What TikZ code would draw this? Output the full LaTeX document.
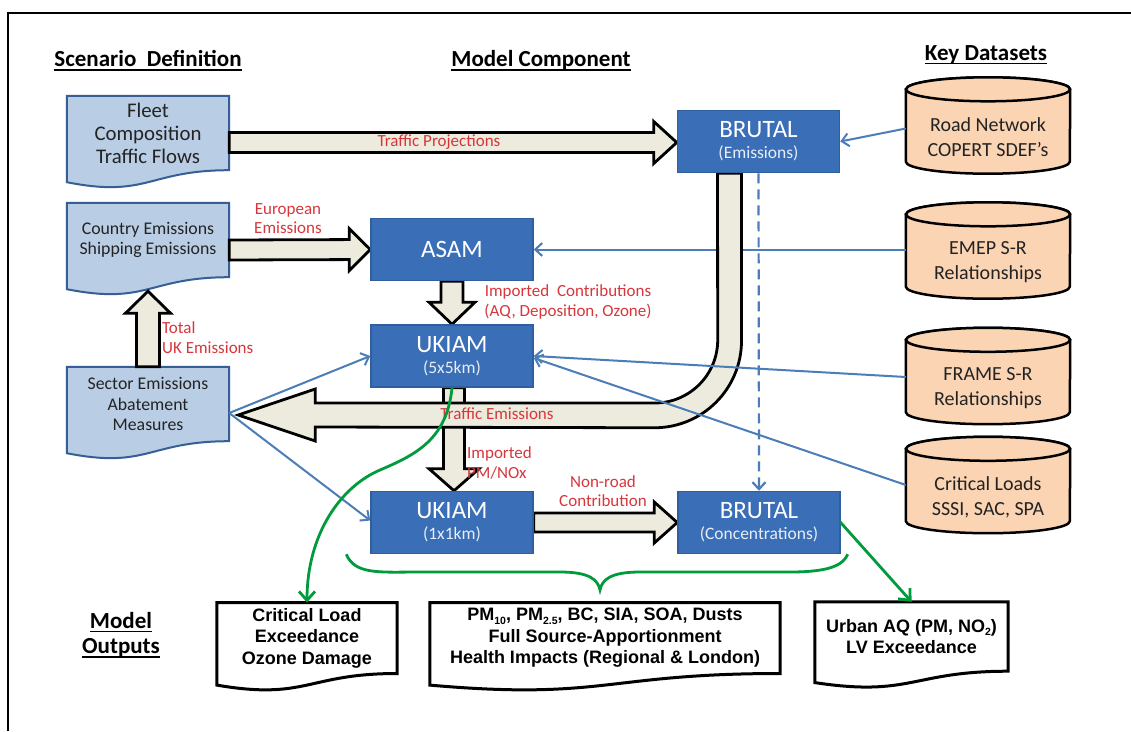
\documentclass[tikz,border=0pt]{standalone}
\usepackage{fontspec}
\setmainfont{Carlito}
\newfontfamily\arialfont{Liberation Sans}
\usetikzlibrary{calc,arrows.meta}

\pgfdeclarelayer{back}
\pgfdeclarelayer{mid}
\pgfdeclarelayer{front}
\pgfsetlayers{back,mid,main,front}

\definecolor{modelblue}{RGB}{58,110,182}
\definecolor{modelborder}{RGB}{48,95,160}
\definecolor{docfill}{RGB}{185,205,229}
\definecolor{docborder}{RGB}{55,95,150}
\definecolor{datafill}{RGB}{251,212,180}
\definecolor{arrowfill}{RGB}{236,235,222}
\definecolor{labelred}{RGB}{215,55,60}
\definecolor{linkblue}{RGB}{75,125,185}
\definecolor{outgreen}{RGB}{0,155,60}
\definecolor{textdark}{RGB}{35,35,35}

\newcommand\fs[2]{\fontsize{#1}{#2}\selectfont}
\newcommand\lowidx[1]{\raisebox{-0.35ex}{\fs{10.5}{11}#1}}
\newcommand\modeltext[2]{\fs{25}{26}#1\\[7pt]{\color{white!88!modelblue}\fs{17.5}{19}#2}}

% document outline below a node: flat top, wavy bottom edge
\newcommand\docshape[4]{%
  \draw[#4] (#1.north west) -- (#1.north east) -- (#1.south east)
    .. controls (#1.south) and ($(#1.south)+(0,-#3)$) .. ($(#1.south west)+(0,-#2)$) -- cycle;}

% upright cylinder round a node (text sits in the body)
\newcommand\cylshape[2]{%
  \draw[datashape] ($(#1.north west)+(0,#2)$) -- ($(#1.south west)+(0,#2)$)
    arc[start angle=180,end angle=360,x radius=82,y radius=#2]
    -- ($(#1.north east)+(0,#2)$)
    arc[start angle=0,end angle=180,x radius=82,y radius=#2] -- cycle;
  \draw[datashape] ($(#1.north)+(0,#2)$) ellipse[x radius=82,y radius=#2];}

% straight block arrow: from, to, shaft half width, head half width, head length
\newcommand\blockarrow[5]{%
  \coordinate (ba-a) at #1;
  \coordinate (ba-b) at #2;
  \coordinate (ba-h) at ($(ba-b)!#5pt!(ba-a)$);
  \draw[blockstyle] ($(ba-a)!#3pt!90:(ba-b)$) -- ($(ba-h)!#3pt!90:(ba-b)$)
    -- ($(ba-h)!#4pt!90:(ba-b)$) -- (ba-b) -- ($(ba-h)!#4pt!-90:(ba-b)$)
    -- ($(ba-h)!#3pt!-90:(ba-b)$) -- ($(ba-a)!#3pt!-90:(ba-b)$) -- cycle;}

\begin{document}
\begin{tikzpicture}[x=1pt,y=1pt,
  model/.style={draw=modelborder,line width=1.5,fill=modelblue,text=white,
    minimum width=162,minimum height=62,inner sep=0,align=center},
  docnode/.style={minimum width=162,minimum height=74,inner sep=0,align=center,
    text=textdark,font=\fs{17.8}{20.5}},
  docstyle/.style={draw=docborder,line width=2,fill=docfill},
  outnode/.style={inner sep=0,align=center,text=black,
    font=\arialfont\bfseries\fs{18}{21.5}},
  outstyle/.style={draw=black,line width=3,fill=white},
  datanode/.style={minimum width=164,minimum height=72,inner sep=0,align=center,
    text=textdark,font=\fs{20}{25}},
  datashape/.style={draw=black,line width=2.5,fill=datafill},
  blockstyle/.style={draw=black,line width=2.8,fill=arrowfill,line join=miter},
  heading/.style={inner sep=0,anchor=base,text=black,font=\bfseries\fs{23}{26}},
  redlabel/.style={inner sep=0,align=center,text=labelred,font=\fs{17}{19.5}},
  link/.style={draw=linkblue,line width=2,-{Straight Barb[length=7pt,width=13pt]}},
  result/.style={draw=outgreen,line width=2.8,-{Straight Barb[length=9pt,width=16pt]}},
]
\useasboundingbox (0,0) rectangle (1131,-731);
\begin{pgfonlayer}{back}
  \fill[white] (0,0) rectangle (1131,-731);
  \draw[line width=2] (8,-731) -- (8,-13) -- (1131,-13);
\end{pgfonlayer}

% ---------- column headings ----------
\node[heading] (hscen) at (148,-66) {Scenario\ \ Definition};
\node[heading] (hmodel) at (541,-66) {Model Component};
\node[heading] (hdata) at (986,-60) {Key Datasets};
\node[heading] (hout1) at (121,-628) {Model};
\node[heading] (hout2) at (121,-653) {Outputs};
\foreach \h/\d in {hscen/4,hmodel/4,hdata/3.5,hout1/3.5,hout2/4}
  \draw[line width=1.6] ($(\h.base west)+(0,-\d)$) -- ($(\h.base east)+(0,-\d)$);

% ---------- scenario definition documents ----------
\node[docnode,font=\fs{20.8}{23}] (fleet) at (148,-133) {Fleet\\Composition\\Traffic Flows};
\node[docnode] (country) at (148,-240) {Country Emissions\\Shipping Emissions};
\node[docnode] (sector) at (148,-404) {Sector Emissions\\Abatement\\Measures};
\begin{pgfonlayer}{back}
  \docshape{fleet}{12}{28}{docstyle}
  \docshape{country}{12}{28}{docstyle}
  \docshape{sector}{12}{28}{docstyle}
\end{pgfonlayer}

% ---------- model components ----------
\node[model] (brutalE) at (758.5,-141.5) {\modeltext{BRUTAL}{(Emissions)}};
\node[model] (asam) at (452,-249.5) {\fs{25}{26}ASAM};
\node[model] (ukiam5) at (452,-356) {\modeltext{UKIAM}{(5x5km)}};
\node[model] (ukiam1) at (452,-522.5) {\modeltext{UKIAM}{(1x1km)}};
\node[model] (brutalC) at (759,-522.5) {\modeltext{BRUTAL}{(Concentrations)}};

% ---------- key datasets ----------
\node[datanode] (road) at (988,-137.5) {Road Network\\COPERT SDEF’s};
\node[datanode] (emep) at (988,-262.5) {EMEP S-R\\Relationships};
\node[datanode] (frame) at (988,-388) {FRAME S-R\\Relationships};
\node[datanode] (crit) at (988,-497) {Critical Loads\\SSSI, SAC, SPA};
\begin{pgfonlayer}{back}
  \cylshape{road}{12}
  \cylshape{emep}{12}
  \cylshape{frame}{12}
  \cylshape{crit}{12}
\end{pgfonlayer}

% ---------- model outputs ----------
\node[outnode,minimum width=180,minimum height=70.6] (outcl) at (307,-638)
  {Critical Load\\Exceedance\\Ozone Damage};
\node[outnode,minimum width=350,minimum height=70.6] (outpm) at (605,-638)
  {PM\lowidx{10}, PM\lowidx{2.5}, BC, SIA, SOA, Dusts\\Full Source-Apportionment\\Health Impacts (Regional \& London)};
\node[outnode,minimum width=193,minimum height=69] (outaq) at (911.5,-636.5)
  {Urban AQ (PM, NO\lowidx{2})\\LV Exceedance};
\begin{pgfonlayer}{back}
  \docshape{outcl}{11.6}{27}{outstyle}
  \docshape{outpm}{11.6}{27}{outstyle}
  \docshape{outaq}{11.4}{26}{outstyle}
\end{pgfonlayer}

% ---------- block arrows and data links ----------
\begin{pgfonlayer}{mid}
  \blockarrow{($(fleet.east)+(0,-9.5)$)}{($(brutalE.west)+(0,-1)$)}{10}{21}{23}
  \blockarrow{($(country.east)+(0,-10)$)}{(asam.west)}{10}{21}{21}
  \blockarrow{(asam.south)}{(ukiam5.north)}{11}{23}{22}
  \blockarrow{(sector.north)}{($(country.south)+(0,-14)$)}{11.5}{22.5}{22}
  \blockarrow{($(ukiam5.south)+(2,0)$)}{($(ukiam1.north)+(2,0)$)}{10.5}{25}{22}
  \blockarrow{(ukiam1.east)}{(brutalC.west)}{9.5}{20.5}{23}

  \draw[link] (emep.west |- asam.east) -- (asam.east);

  % traffic emissions: down from BRUTAL, round the bend and back to the sectors
  \coordinate (te-start) at ($(brutalE.south)+(-29,0)$);
  \coordinate (te-tip) at ($(sector.east)+(9,-11)$);
  \draw[blockstyle] ($(te-start)+(12,0)$) -- ++(0,-167.5)
    arc[start angle=0,end angle=-90,radius=87]
    -- ($(te-tip)+(77,-12)$) -- ($(te-tip)+(77,-26)$) -- (te-tip)
    -- ($(te-tip)+(77,26)$) -- ($(te-tip)+(77,12)$) -- ++(339.5,0)
    arc[start angle=-90,end angle=0,radius=63]
    -- ($(te-start)+(-12,0)$) -- cycle;

  \draw[link] ($(road.west)+(0,9)$) -- (brutalE.east);
  \draw[link] ($(frame.west)+(0,11)$) -- (ukiam5.east);
  \draw[link] ($(crit.west)+(0,12)$) -- ($(ukiam5.east)+(0,-2)$);
  \draw[link] ($(sector.east)+(0,-9)$) -- (ukiam5.west);
  \draw[link] ($(sector.east)+(0,-9)$) -- ($(ukiam1.west)+(0,2)$);
  \draw[link,dash pattern=on 10pt off 6pt,line width=2.2] (brutalE.south) -- (brutalC.north);
\end{pgfonlayer}

% ---------- flow labels ----------
\node[redlabel] (lproj) at (439,-142) {Traffic Projections};
\node[redlabel] (leuro) at (288,-218.5) {European\\Emissions};
\node[redlabel,anchor=west,align=left] (ltotal) at (162,-337.5) {Total\\UK Emissions};
\node[redlabel] (limp) at (568,-302) {Imported~~Contributions\\(AQ, Deposition, Ozone)};
\node[redlabel] (ltraffic) at (497,-414) {Traffic Emissions};
\node[redlabel,anchor=west,align=left] (lpm) at (467,-463) {Imported\\PM/NOx};
\node[redlabel] (lnonroad) at (603,-491) {Non-road\\Contribution};

% ---------- output links ----------
\begin{pgfonlayer}{front}
  \draw[result] (ukiam5.south) .. controls ($(ukiam5.south)+(-5,-52)$) and (415,-455) ..
    (380,-470) .. controls (340,-487) and (307,-535) .. (outcl.north);
  \draw[draw=outgreen,line width=2.8] ($(ukiam1.south west)+(-24,0)$)
    .. controls (355,-575) and (380,-572) .. (420,-572) -- (560,-572)
    .. controls (590,-572) and (598,-580) .. (600,-590)
    .. controls (602,-580) and (610,-572) .. (640,-572) -- (790,-572)
    .. controls (830,-572) and (843,-565) .. ($(brutalC.south east)+(7,0)$);
  \draw[result] ($(brutalC.east)+(-1,1)$) -- (outaq.north);
\end{pgfonlayer}
\end{tikzpicture}
\end{document}
